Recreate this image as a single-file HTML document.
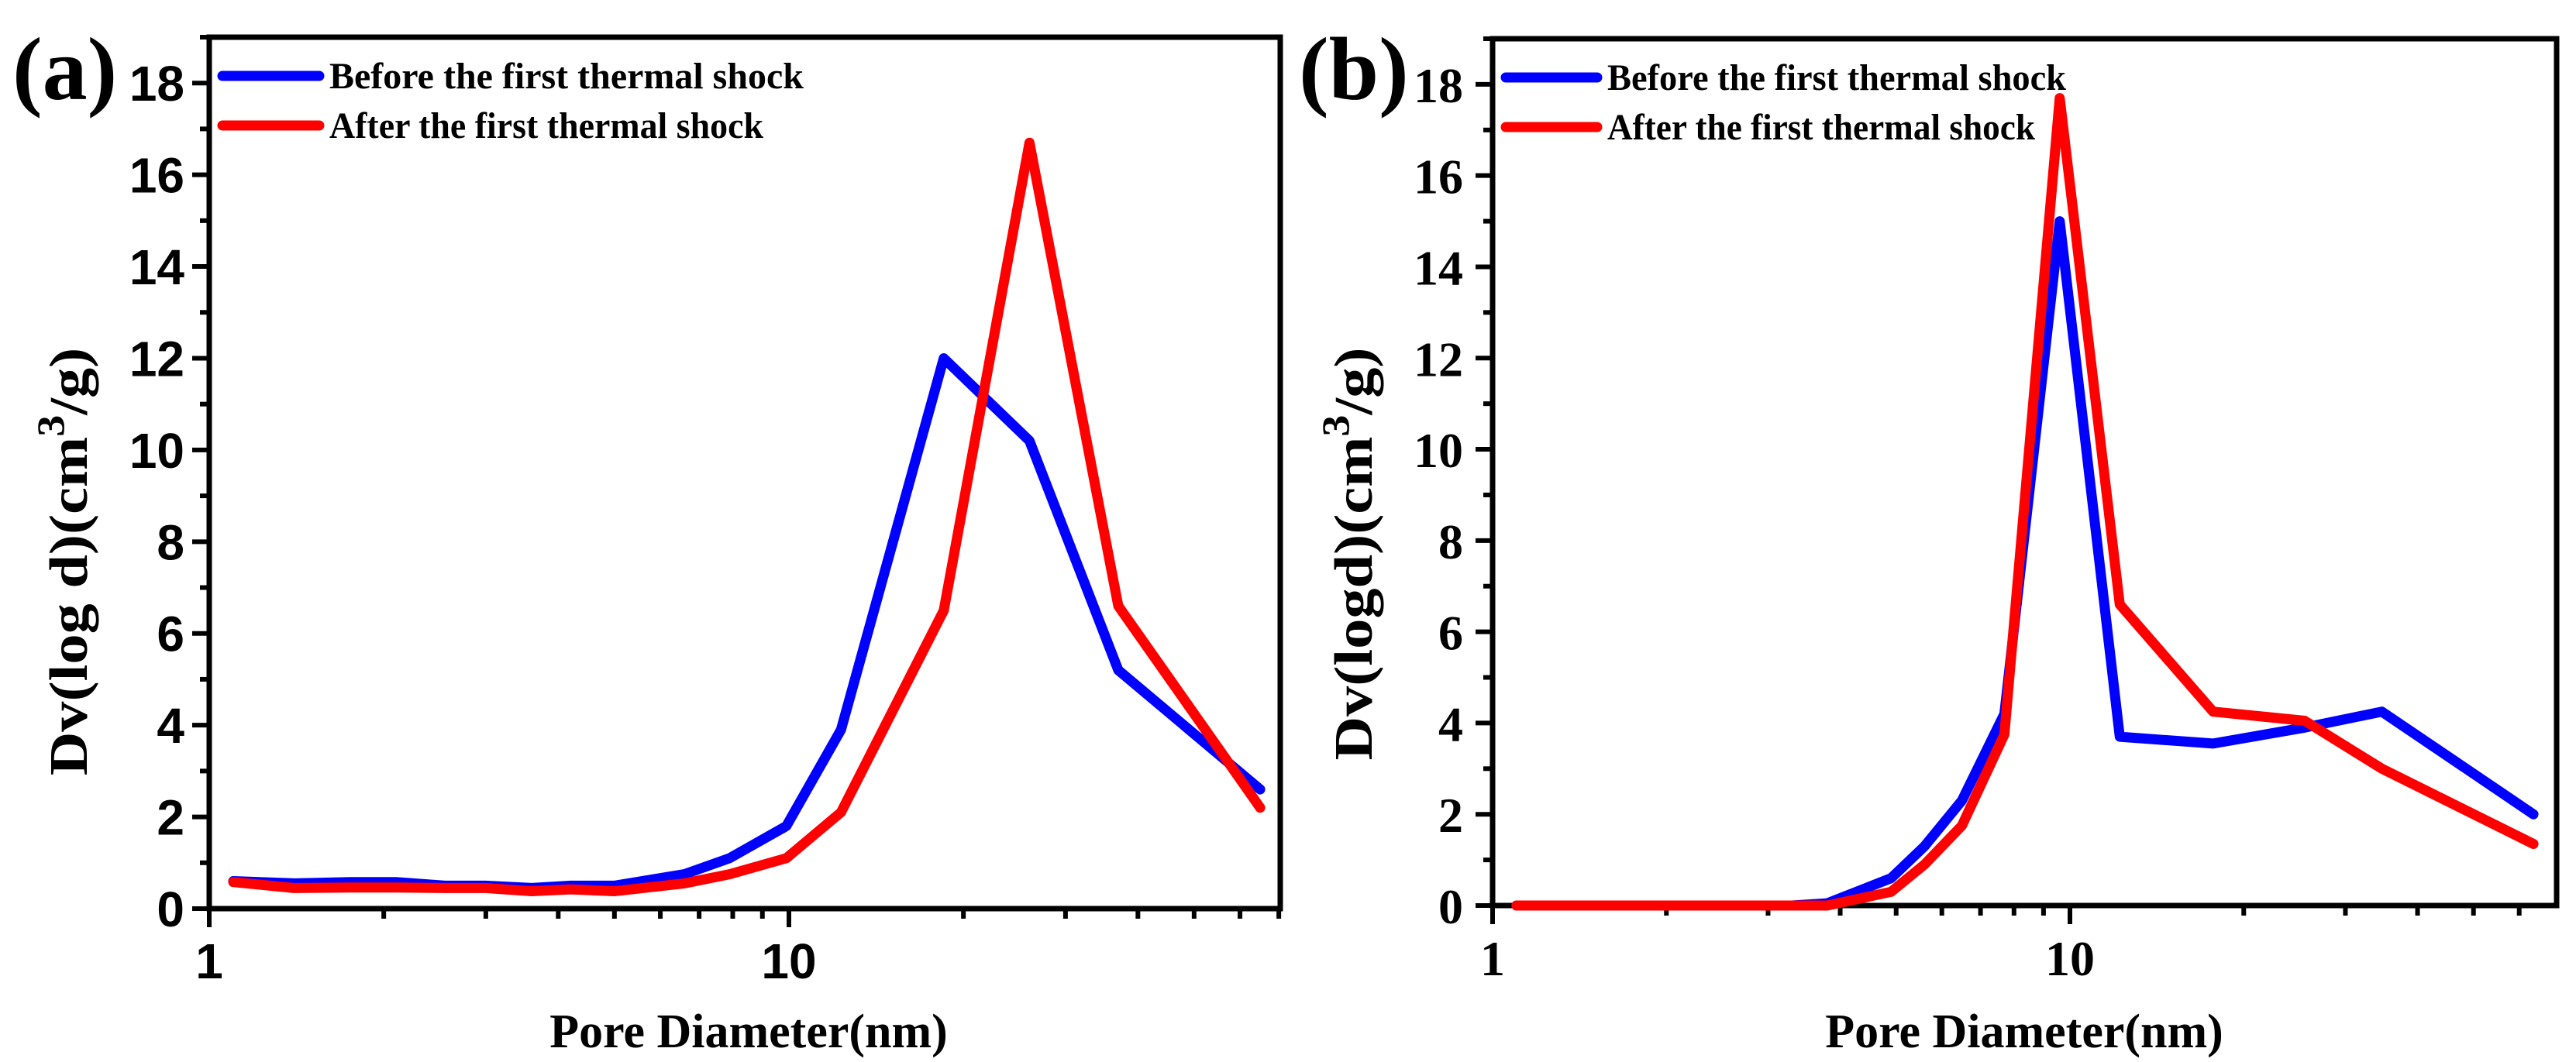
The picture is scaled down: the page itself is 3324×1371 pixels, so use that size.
<!DOCTYPE html>
<html><head><meta charset="utf-8"><style>
html,body{margin:0;padding:0;background:#fff;}
svg{display:block;}
</style></head><body>
<svg id="chart" width="3324" height="1371" viewBox="0 0 3324 1371" xmlns="http://www.w3.org/2000/svg"></svg>
<script>
// Panel (a) data
const aX = [1.1, 1.4, 1.75, 2.1, 2.55, 3.0, 3.6, 4.2, 5.0, 6.6, 7.9, 9.9, 12.3, 18.5, 26, 37, 65];
const aBefore = [0.6, 0.55, 0.58, 0.58, 0.5, 0.5, 0.45, 0.5, 0.5, 0.75, 1.1, 1.8, 3.9, 12.0, 10.2, 5.2, 2.6];
const aAfter  = [0.58, 0.45, 0.46, 0.46, 0.45, 0.45, 0.38, 0.42, 0.38, 0.55, 0.75, 1.1, 2.1, 6.5, 16.7, 6.6, 2.2];
// Panel (b) data
const bX = [1.1, 1.5, 2.0, 2.7, 3.3, 3.8, 4.9, 5.6, 6.5, 7.7, 9.6, 12.2, 17.7, 25.5, 34.7, 63.5];
const bBefore = [0, 0, 0, 0, 0, 0.05, 0.6, 1.3, 2.3, 4.2, 15.0, 3.7, 3.55, 3.9, 4.25, 2.0];
const bAfter  = [0, 0, 0, 0, 0, 0, 0.3, 0.9, 1.75, 3.75, 17.7, 6.6, 4.25, 4.05, 3.0, 1.35];
const yTicks = [0, 2, 4, 6, 8, 10, 12, 14, 16, 18];
const xTickLabels = [1, 10];
const legendLabels = ["Before the first thermal shock", "After the first thermal shock"];

const NS = "http://www.w3.org/2000/svg";
const svg = document.getElementById("chart");
function mk(tag, attrs, parent) {
  const e = document.createElementNS(NS, tag);
  for (const k in attrs) e.setAttribute(k, attrs[k]);
  (parent || svg).appendChild(e);
  return e;
}

function panel(cfg) {
  const g = mk("g", {});
  
  
  const L = cfg.left, R = cfg.right, T = cfg.top, B = cfg.bottom;
  const xMin = 1, xMax = cfg.xMax, yMin = 0, yMax = 19;
  const sx = v => L + (Math.log10(v) - Math.log10(xMin)) / (Math.log10(xMax) - Math.log10(xMin)) * (R - L);
  const sy = v => B - (v - yMin) / (yMax - yMin) * (B - T);

  const frame = mk("rect", {x: L, y: T, width: R - L, height: B - T, fill: "none", stroke: "#000", "stroke-width": 7}, g);
  
  

  for (let v = 0; v <= 19; v += 1) {
    const major = v % 2 === 0;
    const t = mk("line", {x1: L, x2: L - (major ? 22 : 12), y1: sy(v), y2: sy(v), stroke: "#000", "stroke-width": 6}, g);
    
    
  }
  yTicks.forEach(v => {
    const t = mk("text", {x: cfg.yLabelRight, y: sy(v) + 23, "text-anchor": "end", "font-family": cfg.tickFont, "font-weight": "bold", "font-size": 64, fill: "#000"}, g);
    t.textContent = v;
    
    
  });
  for (let d = 1; d <= 10; d *= 10) {
    for (let m = 1; m <= 9; m++) {
      const v = d * m;
      if (v > xMax) break;
      const major = m === 1;
      const t = mk("line", {x1: sx(v), x2: sx(v), y1: B, y2: B + (major ? 24 : 13), stroke: "#000", "stroke-width": 6}, g);
      
      
    }
  }
  xTickLabels.forEach(v => {
    const t = mk("text", {x: sx(v), y: B + 90, "text-anchor": "middle", "font-family": cfg.tickFont, "font-weight": "bold", "font-size": 64, fill: "#000"}, g);
    t.textContent = v;
    
    
  });

  const series = [[cfg.before, "#0000ff", "series-before"], [cfg.after, "#ff0000", "series-after"]];
  series.forEach(([vals, col, nm]) => {
    const pts = cfg.xs.map((x, i) => sx(x).toFixed(1) + "," + sy(vals[i]).toFixed(1)).join(" ");
    const p = mk("polyline", {points: pts, fill: "none", stroke: col, "stroke-width": 13, "stroke-linejoin": "round", "stroke-linecap": "round"}, g);
    
    
  });

  const cols = ["#0000ff", "#ff0000"];
  legendLabels.forEach((lab, i) => {
    const y = cfg.legY + i * 64;
    const ln = mk("line", {x1: cfg.legX1, x2: cfg.legX2, y1: y, y2: y, stroke: cols[i], "stroke-width": 13, "stroke-linecap": "round"}, g);
    
    
    const t = mk("text", {x: cfg.legTextX, y: y + 16, "font-family": "Liberation Serif, serif", "font-weight": "bold", "font-size": 48, fill: "#000", textLength: i === 0 ? cfg.legW0 : cfg.legW1, lengthAdjust: "spacingAndGlyphs"}, g);
    t.textContent = lab;
    
    
  });

  const xt = mk("text", {x: cfg.xTitleX, y: 1352, "text-anchor": "middle", "font-family": "Liberation Serif, serif", "font-weight": "bold", "font-size": 62, fill: "#000"}, g);
  xt.textContent = "Pore Diameter(nm)";
  
  

  const yt = mk("text", {x: 0, y: 0, "text-anchor": "middle", "font-family": "Liberation Serif, serif", "font-weight": "bold", "font-size": 70, fill: "#000", transform: "translate(" + cfg.yTitleX + "," + cfg.yTitleY + ") rotate(-90) scale(1.12,1)"}, g);
  
  
  const s1 = mk("tspan", {}, yt); s1.textContent = cfg.yTitle + "(cm";
  const s2 = mk("tspan", {dy: -30, "font-size": 50}, yt); s2.textContent = "3";
  const s3 = mk("tspan", {dy: 30}, yt); s3.textContent = "/g)";

  const pl = mk("text", {x: cfg.panelX, y: 128, "font-family": "Liberation Serif, serif", "font-weight": "bold", "font-size": 116, fill: "#000"}, g);
  pl.textContent = cfg.panelLabel;
  
  
}

panel({name: "panel-a", left: 270, right: 1652, top: 48, bottom: 1173, xMax: Math.pow(10, (1652 - 270) / 748),
  xs: aX, before: aBefore, after: aAfter, tickFont: "Liberation Sans, sans-serif", yLabelRight: 238,
  legX1: 287, legX2: 412, legY: 98, legTextX: 425, legW0: 612, legW1: 560,
  xTitleX: 966, yTitleX: 112, yTitleY: 725, yTitle: "Dv(log d)", panelLabel: "(a)", panelX: 16});
panel({name: "panel-b", left: 1926, right: 3299, top: 50, bottom: 1169, xMax: Math.pow(10, (3299 - 1926) / 745),
  xs: bX, before: bBefore, after: bAfter, tickFont: "Liberation Serif, serif", yLabelRight: 1888,
  legX1: 1943, legX2: 2061, legY: 100, legTextX: 2074, legW0: 592, legW1: 552,
  xTitleX: 2612, yTitleX: 1770, yTitleY: 715, yTitle: "Dv(logd)", panelLabel: "(b)", panelX: 1676});
</script>
</body></html>
